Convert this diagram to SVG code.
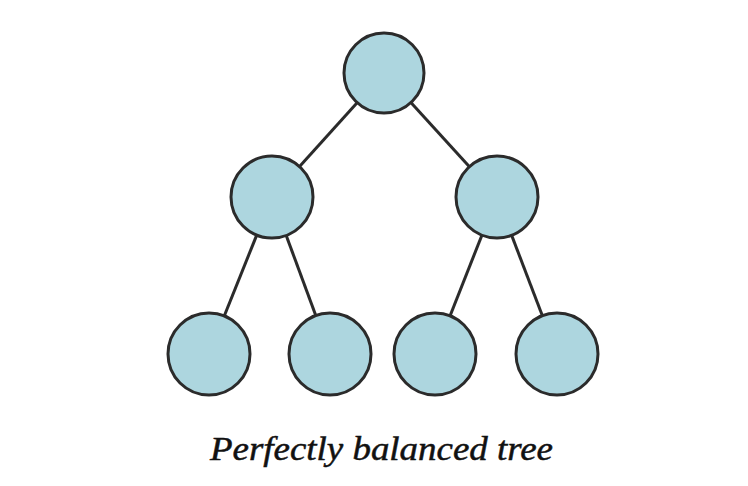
<svg xmlns="http://www.w3.org/2000/svg" width="748" height="486" viewBox="0 0 748 486">
  <style>
    .node { fill: #add6df; stroke: #2b2b2b; stroke-width: 3; }
    .edge { stroke: #2b2b2b; stroke-width: 3; fill: none; }
    .caption { font-family: "Liberation Serif", "DejaVu Serif", serif; font-style: italic; font-size: 34px; fill: #111; stroke: #111; stroke-width: 0.5; }
  </style>
  <rect width="748" height="486" fill="#ffffff"/>
  <g id="edges">
    <line class="edge" x1="384" y1="73" x2="272" y2="197"/>
    <line class="edge" x1="384" y1="73" x2="497" y2="197"/>
    <line class="edge" x1="272" y1="197" x2="209" y2="354"/>
    <line class="edge" x1="272" y1="197" x2="330" y2="354"/>
    <line class="edge" x1="497" y1="197" x2="435" y2="354"/>
    <line class="edge" x1="497" y1="197" x2="557" y2="354"/>
  </g>
  <g id="root"><circle class="node" cx="384" cy="73" r="40"/></g>
  <g id="left"><circle class="node" cx="272" cy="197" r="41"/></g>
  <g id="right"><circle class="node" cx="497" cy="197" r="41"/></g>
  <g id="left-left"><circle class="node" cx="209" cy="354" r="41"/></g>
  <g id="left-right"><circle class="node" cx="330" cy="354" r="41"/></g>
  <g id="right-left"><circle class="node" cx="435" cy="354" r="41"/></g>
  <g id="right-right"><circle class="node" cx="557" cy="354" r="41"/></g>
  <text class="caption" x="210" y="460" textLength="343" lengthAdjust="spacingAndGlyphs">Perfectly balanced tree</text>
</svg>
